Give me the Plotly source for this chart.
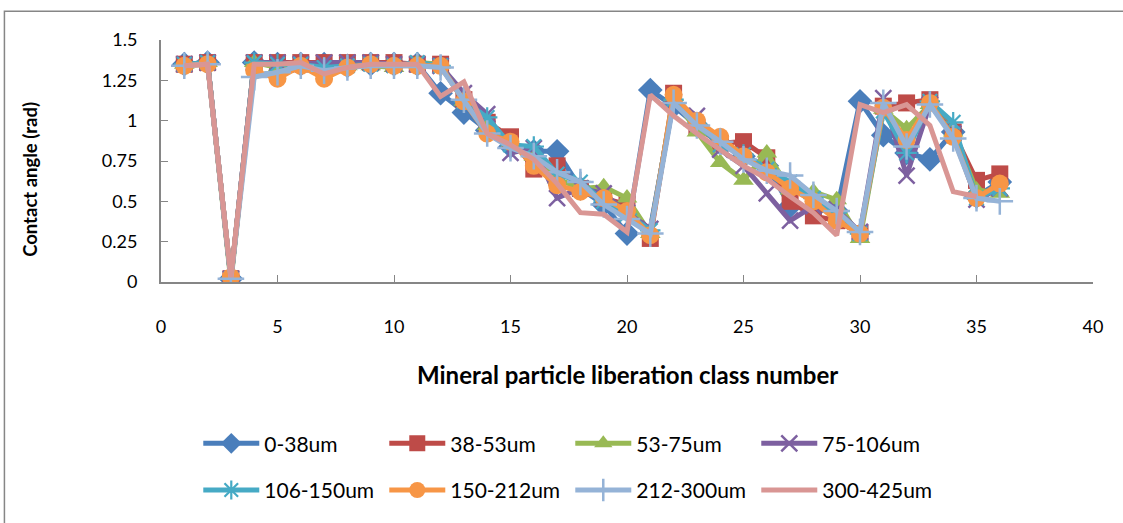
import plotly.graph_objects as go

# Liberation class numbers 1..36
classes = list(range(1, 37))

# Contact angle (rad) per size fraction
s_0_38 = [1.35, 1.36, 0.02, 1.36, 1.35, 1.35, 1.35, 1.34, 1.35, 1.35, 1.35, 1.17,
          1.05, 0.94, 0.84, 0.81, 0.81, 0.58, 0.48, 0.30, 1.19, 1.09, 0.97, 0.86,
          0.78, 0.72, 0.47, 0.45, 0.44, 1.12, 0.91, 0.80, 0.76, 0.93, 0.53, 0.62]
s_38_53 = [1.35, 1.36, 0.02, 1.36, 1.36, 1.36, 1.36, 1.36, 1.36, 1.36, 1.35, 1.35,
           1.13, 0.99, 0.90, 0.70, 0.72, 0.58, 0.52, 0.48, 0.27, 1.17, 0.96, 0.86,
           0.87, 0.77, 0.50, 0.41, 0.38, 0.30, 1.09, 1.11, 1.13, 0.93, 0.63, 0.67]
s_53_75 = [1.35, 1.36, 0.00, 1.36, 1.33, 1.34, 1.31, 1.34, 1.34, 1.33, 1.36, 1.35,
           1.12, 0.97, 0.86, 0.78, 0.64, 0.58, 0.59, 0.52, 0.30, 1.15, 0.93, 0.74,
           0.63, 0.80, 0.57, 0.56, 0.51, 0.27, 1.07, 0.95, 1.10, 0.93, 0.57, 0.55]
s_75_106 = [1.35, 1.36, 0.02, 1.36, 1.36, 1.35, 1.36, 1.36, 1.36, 1.35, 1.35, 1.34,
            1.17, 1.04, 0.80, 0.83, 0.52, 0.58, 0.55, 0.43, 0.33, 1.12, 1.03, 0.82,
            0.72, 0.55, 0.38, 0.47, 0.45, 0.31, 1.14, 0.66, 1.10, 0.92, 0.51, 0.58]
s_106_150 = [1.35, 1.36, 0.02, 1.36, 1.35, 1.35, 1.33, 1.34, 1.35, 1.34, 1.36, 1.34,
             1.12, 1.02, 0.85, 0.84, 0.67, 0.62, 0.50, 0.42, 0.32, 1.13, 0.98, 0.85,
             0.79, 0.70, 0.62, 0.52, 0.43, 0.30, 1.06, 0.80, 1.12, 0.99, 0.52, 0.58]
s_150_212 = [1.34, 1.35, 0.03, 1.31, 1.26, 1.34, 1.26, 1.33, 1.35, 1.34, 1.34, 1.34,
             1.12, 0.92, 0.87, 0.72, 0.60, 0.56, 0.52, 0.44, 0.29, 1.16, 1.00, 0.90,
             0.78, 0.68, 0.58, 0.50, 0.38, 0.30, 1.08, 0.88, 1.11, 0.90, 0.52, 0.61]
s_212_300 = [1.34, 1.35, 0.02, 1.27, 1.30, 1.34, 1.31, 1.33, 1.34, 1.34, 1.34, 1.33,
             1.13, 0.92, 0.83, 0.78, 0.68, 0.62, 0.48, 0.39, 0.30, 1.11, 0.97, 0.87,
             0.76, 0.69, 0.66, 0.54, 0.44, 0.31, 1.11, 0.84, 1.10, 0.89, 0.52, 0.50]
s_300_425 = [1.34, 1.35, 0.03, 1.35, 1.35, 1.36, 1.29, 1.33, 1.35, 1.35, 1.35, 1.15,
             1.24, 0.92, 0.85, 0.76, 0.61, 0.43, 0.42, 0.31, 1.16, 1.03, 0.92, 0.82,
             0.72, 0.64, 0.53, 0.43, 0.29, 1.10, 1.05, 1.10, 0.97, 0.56, 0.53, None]

series_names = ["0-38um", "38-53um", "53-75um", "75-106um",
                "106-150um", "150-212um", "212-300um", "300-425um"]
series_values = [s_0_38, s_38_53, s_53_75, s_75_106,
                 s_106_150, s_150_212, s_212_300, s_300_425]

y_tick_vals = [0, 0.25, 0.5, 0.75, 1, 1.25, 1.5]
y_tick_text = ["0", "0.25", "0.5", "0.75", "1", "1.25", "1.5"]
x_tick_vals = [0, 5, 10, 15, 20, 25, 30, 35, 40]

colors = ["#4A7EBB", "#BE4B48", "#98B954", "#7D60A0",
          "#46AAC5", "#F79646", "#95B3D7", "#D99694"]
# (symbol, size, outline width) per series; None -> line only
marker_styles = [("diamond", 19, 0), ("square", 17, 0), ("triangle-up", 18, 0),
                 ("x-thin", 16, 2.5), ("asterisk", 17, 2.2), ("circle", 18, 0),
                 ("cross-thin", 19, 2.5), None]

FONT = "Lato, 'Open Sans', sans-serif"
AXIS_GREY = "#868686"

fig = go.Figure()
for i, (name, vals) in enumerate(zip(series_names, series_values)):
    ms = marker_styles[i]
    kw = dict(x=classes, y=vals, name=name,
              line=dict(color=colors[i], width=5),
              legend="legend" if i < 4 else "legend2",
              connectgaps=False)
    if ms is None:
        kw["mode"] = "lines"
    else:
        sym, size, lw = ms
        kw["mode"] = "lines+markers"
        kw["marker"] = dict(symbol=sym, size=size, color=colors[i],
                            line=dict(color=colors[i], width=lw))
    fig.add_trace(go.Scatter(**kw))

fig.update_xaxes(range=[0, 40], tickvals=x_tick_vals, ticks="inside", ticklen=7,
                 tickcolor=AXIS_GREY, showline=True, linecolor=AXIS_GREY, linewidth=2,
                 showgrid=False, zeroline=False, ticklabelstandoff=27,
                 tickfont=dict(family=FONT, size=18, color="black"))
fig.update_yaxes(range=[0, 1.5], tickvals=y_tick_vals, ticktext=y_tick_text,
                 ticks="inside", ticklen=7, tickcolor=AXIS_GREY, showline=True,
                 linecolor=AXIS_GREY, linewidth=2, showgrid=False, zeroline=False,
                 ticklabelstandoff=18,
                 tickfont=dict(family=FONT, size=18, color="black"))

legend_common = dict(orientation="h", xanchor="left", yanchor="middle",
                     font=dict(family=FONT, size=21, color="black"),
                     entrywidth=115, itemwidth=56, bgcolor="rgba(0,0,0,0)")

fig.update_layout(
    width=1123, height=523,
    margin=dict(l=161, r=30, t=40, b=239, pad=0),
    paper_bgcolor="white", plot_bgcolor="white",
    showlegend=True,
    legend=dict(x=0.040, y=-0.668, **legend_common),
    legend2=dict(x=0.040, y=-0.861, **legend_common),
    font=dict(family=FONT, color="black"),
    annotations=[
        dict(text="<b>Mineral particle liberation class number</b>", xref="paper",
             yref="paper", x=0.5, y=-0.381, xanchor="center", yanchor="middle",
             showarrow=False, font=dict(family=FONT, size=24, color="black")),
        dict(text="<b>Contact angle (rad)</b>", xref="paper", yref="paper",
             x=-0.1406, y=0.426, xanchor="center", yanchor="middle", textangle=-90,
             showarrow=False, font=dict(family=FONT, size=18.5, color="black")),
    ],
    shapes=[
        dict(type="rect", xref="paper", yref="paper", x0=-0.168, x1=2.0,
             y0=-2.0, y1=1.119, line=dict(color=AXIS_GREY, width=1.5),
             fillcolor="rgba(0,0,0,0)", layer="below"),
    ],
)

fig.write_html("out.html")
